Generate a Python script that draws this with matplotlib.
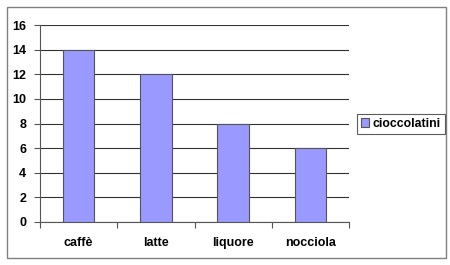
import matplotlib.pyplot as plt
from matplotlib.patches import Rectangle

# data
categories = ["caffè", "latte", "liquore", "nocciola"]
values = [14, 12, 8, 6]
series_name = "cioccolatini"

plt.rcParams["font.family"] = ["Liberation Sans", "DejaVu Sans"]
plt.rcParams["font.weight"] = "bold"
plt.rcParams["font.size"] = 9

fig = plt.figure(figsize=(4.5, 2.65), dpi=100)
# outer chart border
fig.patches.append(Rectangle((7 / 450, 7 / 265), 439 / 450, 251 / 265,
                             transform=fig.transFigure, fill=False,
                             edgecolor="#808080", linewidth=1))

ax = fig.add_axes([40 / 450, 1 - 222 / 265, 309 / 450, 197 / 265])
x = range(len(categories))
ax.bar(x, values, width=0.41, color="#9999ff", edgecolor="#555555",
       linewidth=0.8, label=series_name, zorder=3)

ax.set_xlim(-0.5, len(categories) - 0.5)
ax.set_ylim(0, 16)
ax.set_yticks(range(0, 17, 2))
ax.grid(axis="y", color="#333333", linewidth=0.8, zorder=0)
ax.set_xticks([i - 0.5 for i in range(len(categories) + 1)], minor=False)
ax.set_xticklabels([])
ax.set_xticks(list(x), minor=True)
ax.set_xticklabels(categories, minor=True)
ax.tick_params(axis="x", which="minor", length=0, pad=11)
ax.tick_params(axis="x", which="major", length=4, direction="out", color="#555555")
ax.tick_params(axis="y", length=4, direction="out", color="#555555", pad=6)
for s in ["top", "right"]:
    ax.spines[s].set_visible(False)
ax.spines["left"].set_color("#555555")
ax.spines["bottom"].set_color("#555555")

leg = fig.legend(loc="center left", bbox_to_anchor=(357 / 450, 1 - 124 / 265),
                 frameon=True, fancybox=False, handlelength=0.7, handleheight=0.7,
                 handletextpad=0.3, borderpad=0.3, borderaxespad=0,
                 prop={"size": 8.8, "weight": "bold"})
leg.get_frame().set_edgecolor("#333333")
leg.get_frame().set_linewidth(0.8)

fig.savefig("out.png", dpi=100)
